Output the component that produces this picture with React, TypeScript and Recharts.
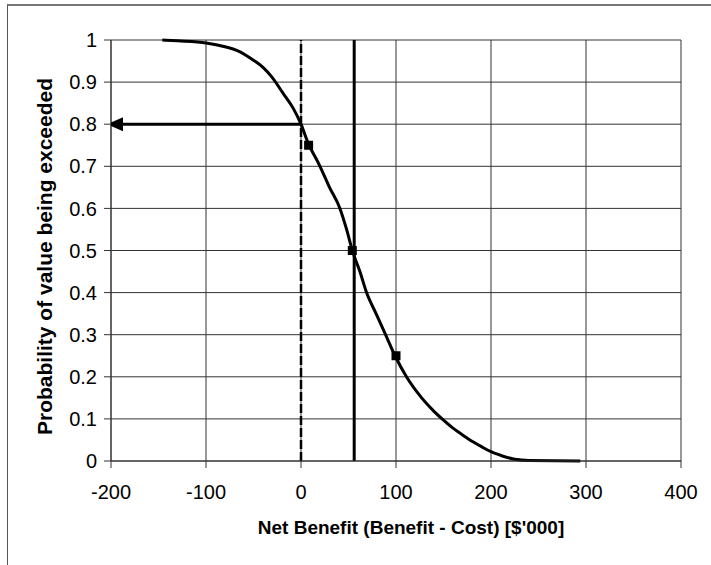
import {
  ComposedChart,
  Line,
  Scatter,
  XAxis,
  YAxis,
  CartesianGrid,
  ReferenceLine,
  Label,
} from 'recharts'

// Net benefit ($'000) vs probability of that value being exceeded
const netBenefit = [
  -146, -130, -100, -80, -67, -50, -40, -31, -19, -8, 0, 7, 20, 30, 41, 48, 54,
  62, 69, 79, 89, 99, 111, 127, 140, 150, 160, 170, 180, 190, 200, 212, 225,
  240, 294,
]
const probExceeded = [
  1.0, 0.998, 0.993, 0.984, 0.975, 0.952, 0.935, 0.913, 0.874, 0.837, 0.8,
  0.758, 0.7, 0.65, 0.6, 0.55, 0.5, 0.45, 0.4, 0.35, 0.3, 0.25, 0.2, 0.15,
  0.118, 0.097, 0.078, 0.062, 0.047, 0.034, 0.022, 0.012, 0.004, 0.001, 0,
]

// quartile markers on the curve
const quartileX = [8, 54, 100]
const quartileP = [0.75, 0.5, 0.25]

// arrow from the break-even point back to the axis
const arrowX = [0, -200]
const arrowP = 0.8

const breakEvenX = 0
const expectedX = 56

const xTicks = [-200, -100, 0, 100, 200, 300, 400]
const yTicks = [0, 0.1, 0.2, 0.3, 0.4, 0.5, 0.6, 0.7, 0.8, 0.9, 1]

const curve = netBenefit.map((x, i) => ({ x, p: probExceeded[i] }))
const markers = quartileX.map((x, i) => ({ x, p: quartileP[i] }))
const arrowLine = arrowX.map((x) => ({ x, p: arrowP }))
const arrowHead = [{ x: arrowX[1], p: arrowP }]

const FONT = '"Liberation Sans", Arial, sans-serif'
const GRID = '#333'

function Square(props: any) {
  const { cx, cy } = props
  return <rect x={cx - 4.5} y={cy - 4.5} width={9} height={9} fill="#000" />
}

function ArrowHead(props: any) {
  const { cx, cy } = props
  return (
    <polygon
      points={`${cx - 4},${cy} ${cx + 12},${cy - 7} ${cx + 12},${cy + 7}`}
      fill="#000"
    />
  )
}

function YTitle(props: any) {
  const { viewBox } = props
  const x = viewBox.x - 7
  const y = viewBox.y + viewBox.height / 2 + 6
  return (
    <text
      x={x}
      y={y}
      transform={`rotate(-90 ${x} ${y})`}
      textAnchor="middle"
      dominantBaseline="central"
      fontFamily={FONT}
      fontSize={21}
      fontWeight="bold"
      fill="#000"
    >
      Probability of value being exceeded
    </text>
  )
}

function XTitle(props: any) {
  const { viewBox } = props
  const x = viewBox.x + viewBox.width / 2 + 15
  const y = viewBox.y + 66
  return (
    <text
      x={x}
      y={y}
      textAnchor="middle"
      dominantBaseline="central"
      fontFamily={FONT}
      fontSize={19}
      fontWeight="bold"
      fill="#000"
    >
      Net Benefit (Benefit - Cost) [$'000]
    </text>
  )
}

export default function App() {
  return (
    <div
      style={{
        position: 'absolute',
        left: 0,
        top: 0,
        width: 711,
        height: 565,
        background: '#fff',
      }}
    >
      <div
        style={{
          position: 'absolute',
          left: 7,
          top: 4,
          width: 704,
          height: 561,
          borderTop: '2px solid #777',
          borderLeft: '1px solid #555',
        }}
      />
      <ComposedChart
        width={711}
        height={565}
        margin={{ top: 40, right: 30, bottom: 34, left: 51 }}
        style={{ position: 'absolute', left: 0, top: 0 }}
      >
        <CartesianGrid stroke={GRID} strokeWidth={1} />
        <XAxis
          type="number"
          dataKey="x"
          domain={[-200, 400]}
          ticks={xTicks}
          height={70}
          tickSize={7}
          tickMargin={17}
          stroke={GRID}
          tick={{ fill: '#000', fontSize: 20, fontFamily: FONT }}
          allowDataOverflow
        >
          <Label content={<XTitle />} />
        </XAxis>
        <YAxis
          type="number"
          dataKey="p"
          domain={[0, 1]}
          ticks={yTicks}
          width={60}
          tickSize={7}
          tickMargin={7}
          stroke={GRID}
          tick={{ fill: '#000', fontSize: 20, fontFamily: FONT }}
          tickFormatter={(v: number) => String(v)}
        >
          <Label content={<YTitle />} />
        </YAxis>
        <ReferenceLine
          x={breakEvenX}
          stroke="#000"
          strokeWidth={2.5}
          strokeDasharray="9 3"
        />
        <ReferenceLine x={expectedX} stroke="#000" strokeWidth={3} />
        <Line
          data={arrowLine}
          dataKey="p"
          type="linear"
          stroke="#000"
          strokeWidth={3}
          dot={false}
          activeDot={false}
          isAnimationActive={false}
        />
        <Line
          data={curve}
          dataKey="p"
          type="monotone"
          stroke="#000"
          strokeWidth={3}
          dot={false}
          activeDot={false}
          isAnimationActive={false}
        />
        <Scatter
          data={markers}
          dataKey="p"
          shape={<Square />}
          isAnimationActive={false}
        />
        <Scatter
          data={arrowHead}
          dataKey="p"
          shape={<ArrowHead />}
          isAnimationActive={false}
        />
      </ComposedChart>
    </div>
  )
}
